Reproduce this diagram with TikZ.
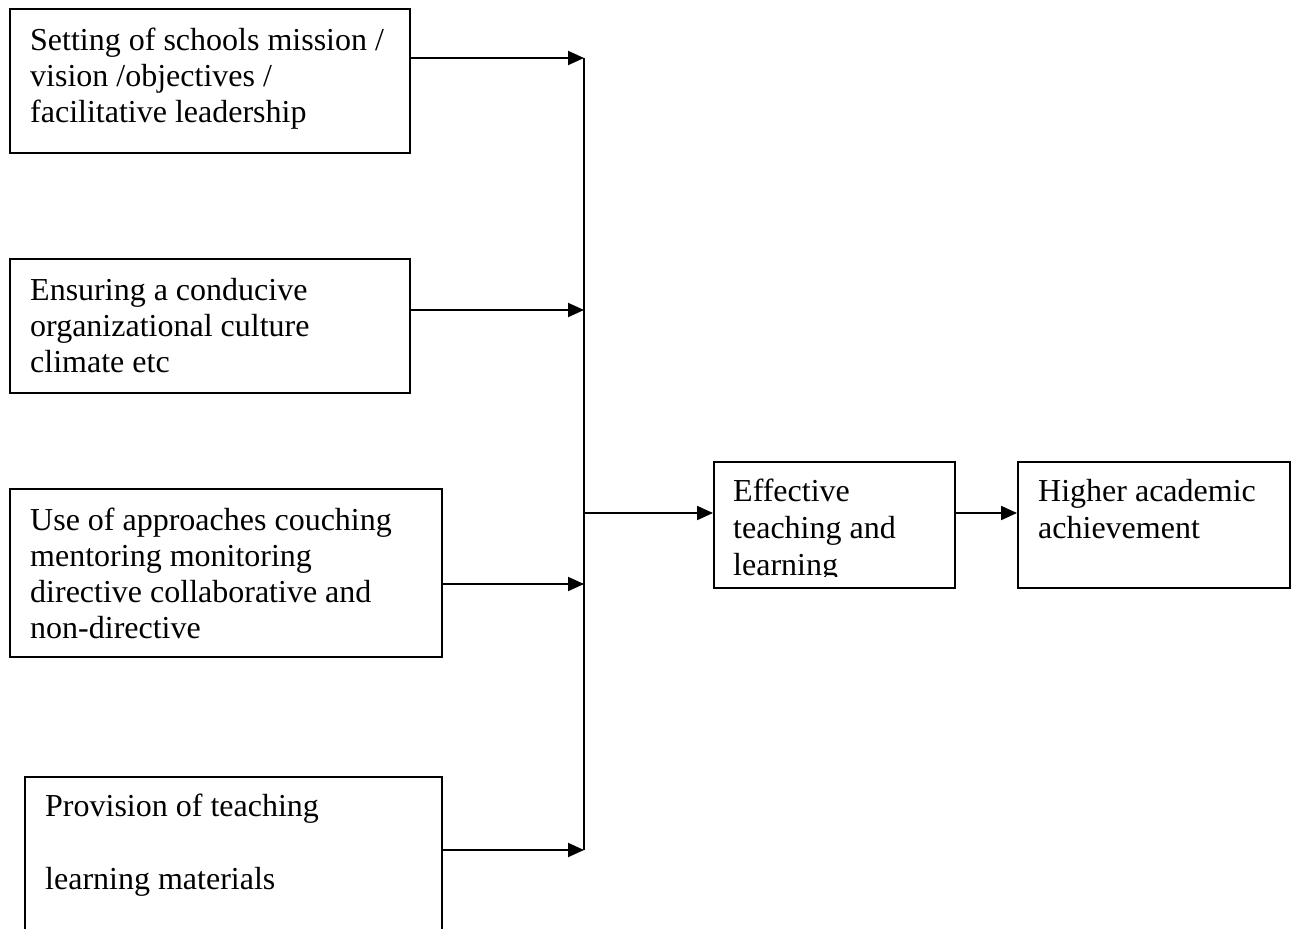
\documentclass[tikz,border=0pt]{standalone}
\usepackage{fontspec}
\setmainfont{Liberation Serif}
\usetikzlibrary{arrows.meta}
\begin{document}
\begin{tikzpicture}[x=1pt,y=-1pt,
  box/.style={draw,line width=2pt,inner sep=0pt,anchor=north west},
  lbl/.style={inner sep=0pt,anchor=base west,align=left,font=\fontsize{32}{36}\selectfont},
  lblw/.style={lbl,font=\fontsize{32}{37}\selectfont},
  arr/.style={-{Triangle[length=16pt,width=14pt]},line width=2pt},
  lin/.style={line width=2pt}]
\useasboundingbox (0,0) rectangle (1296,929);
% boxes
\node[box,minimum width=400pt,minimum height=144pt] (b1) at (9,8) {};
\node[box,minimum width=400pt,minimum height=134pt] (b2) at (9,258) {};
\node[box,minimum width=432pt,minimum height=168pt] (b3) at (9,488) {};
\node[box,minimum width=417pt,minimum height=170pt] (b4) at (24,776) {};
\node[box,minimum width=241pt,minimum height=126pt] (eff) at (713,461) {};
\node[box,minimum width=272pt,minimum height=126pt] (hi) at (1017,461) {};
% texts (anchor = baseline of last line)
\node[lbl] (t1) at (30,122) {Setting of schools mission /\\vision /objectives /\\facilitative leadership};
\node[lbl] (t2) at (30,372) {Ensuring a conducive\\organizational culture\\climate etc};
\node[lbl] (t3) at (30,638) {Use of approaches couching\\mentoring monitoring\\directive collaborative and\\non-directive};
\node[lbl] (t4) at (45,889) {Provision of teaching\\[37pt]learning materials};
\begin{scope}
\clip (713,461) rectangle (954,576);
\node[lblw] (t5) at (733,575) {Effective\\teaching and\\learning};
\end{scope}
\node[lblw] (t6) at (1038,538) {Higher academic\\achievement};
% connectors
\coordinate (j1) at (584,58);
\coordinate (j2) at (584,310);
\coordinate (j3) at (584,584);
\coordinate (j4) at (584,850);
\coordinate (jm) at (584,513);
\draw[lin] (j1) -- (j4);
\draw[arr] (b1.east |- j1) -- (j1);
\draw[arr] (b2.east |- j2) -- (j2);
\draw[arr] (b3.east |- j3) -- (j3);
\draw[arr] (b4.east |- j4) -- (j4);
\draw[arr] (jm) -- (jm -| eff.west);
\draw[arr] (eff.east |- jm) -- (jm -| hi.west);
\end{tikzpicture}
\end{document}
